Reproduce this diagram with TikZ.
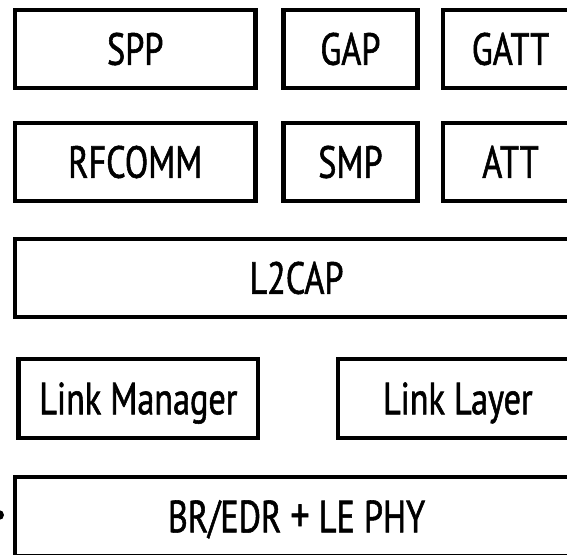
\documentclass[tikz,border=0pt]{standalone}
\usepackage{fontspec}
\setmainfont{PT Sans}[FakeStretch=0.76,FakeBold=1.2]
\begin{document}
\begin{tikzpicture}[x=1pt,y=-1pt,
  box/.style={draw=black, line width=4.2pt, fill=white, inner sep=0pt,
    font=\fontsize{45}{49}\selectfont, text height=31.5pt, text depth=0pt},
]
\clip (0,0) rectangle (567,554);
\fill[white] (0,0) rectangle (567,554);
% row 1
\node[box, minimum width=240.3pt, minimum height=77.8pt] (spp) at (135.25,49) {SPP};
\node[box, minimum width=133.9pt, minimum height=77.8pt] (gap) at (350.45,49) {GAP};
\node[box, minimum width=134.8pt, minimum height=77.8pt] (gatt) at (510.5,49) {GATT};
% row 2
\node[box, minimum width=240.3pt, minimum height=77.8pt] (rfcomm) at (135.25,162) {RFCOMM};
\node[box, minimum width=133.9pt, minimum height=77.8pt] (smp) at (350.45,162) {SMP};
\node[box, minimum width=134.8pt, minimum height=77.8pt] (att) at (510.5,162) {ATT};
% row 3
\node[box, minimum width=562.8pt, minimum height=77.8pt] (l2cap) at (296.5,278) {L2CAP};
% row 4
\node[box, minimum width=239.9pt, minimum height=78.8pt] (lm) at (138.35,398.5) {Link Manager};
\node[box, minimum width=240.2pt, minimum height=78.8pt] (ll) at (457.8,398.5) {Link Layer};
% row 5
\node[box, minimum width=562.8pt, minimum height=78.9pt] (phy) at (296.5,516.5) {BR/EDR {\fontsize{50}{50}\selectfont+} LE PHY};
% partial dot at the left edge
\fill[black] (-1,515) circle (5);
\end{tikzpicture}
\end{document}
